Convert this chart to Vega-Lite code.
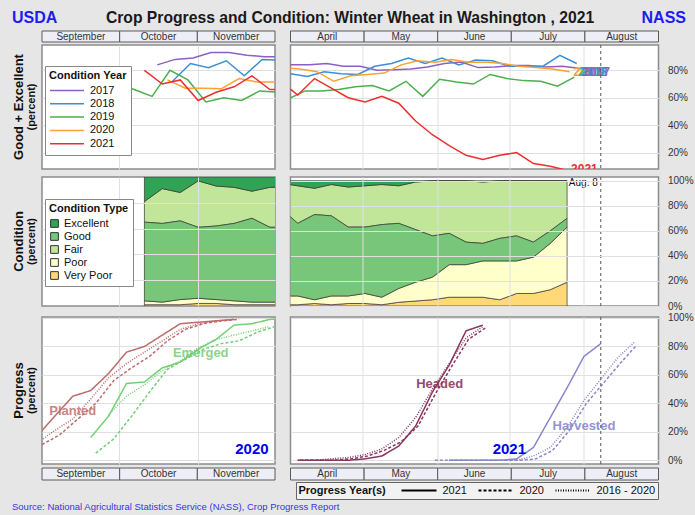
{
"$schema": "https://vega.github.io/schema/vega-lite/v6.json",
"background": "#e6e6e6",
"padding": {"left": 12, "top": 8, "right": 4, "bottom": 4},
"title": {"text": "Source: National Agricultural Statistics Service (NASS), Crop Progress Report", "orient": "bottom", "anchor": "start", "fontSize": 9.5, "fontWeight": "normal", "color": "#3535e0", "offset": 2},
"config": {
  "font": "Liberation Sans",
  "view": {"stroke": null},
  "axis": {"labelFontSize": 10, "labelColor": "#333333", "gridColor": "#e0e0e0", "labelOverlap": false},
  "legend": {"labelFontSize": 11, "titleFontSize": 11, "titleFontWeight": "bold", "labelColor": "#111111", "titleColor": "#111111"}
},
"datasets": {
  "condFall": [
    {"year":"2017","date":"2020-10-16","value":84},{"year":"2017","date":"2020-10-23","value":88},{"year":"2017","date":"2020-10-30","value":89},{"year":"2017","date":"2020-11-06","value":93},{"year":"2017","date":"2020-11-13","value":93},{"year":"2017","date":"2020-11-20","value":91},{"year":"2017","date":"2020-11-27","value":90},{"year":"2017","date":"2020-12-04","value":90},
    {"year":"2018","date":"2020-10-22","value":72},{"year":"2018","date":"2020-10-29","value":85},{"year":"2018","date":"2020-11-05","value":82},{"year":"2018","date":"2020-11-12","value":87},{"year":"2018","date":"2020-11-19","value":76},{"year":"2018","date":"2020-11-26","value":88},{"year":"2018","date":"2020-12-03","value":87.5},
    {"year":"2019","date":"2020-09-30","value":70},{"year":"2019","date":"2020-10-07","value":66},{"year":"2019","date":"2020-10-14","value":61},{"year":"2019","date":"2020-10-21","value":80},{"year":"2019","date":"2020-10-28","value":73},{"year":"2019","date":"2020-11-04","value":57},{"year":"2019","date":"2020-11-11","value":60},{"year":"2019","date":"2020-11-18","value":58},{"year":"2019","date":"2020-11-25","value":65},{"year":"2019","date":"2020-12-02","value":64},
    {"year":"2020","date":"2020-10-20","value":73},{"year":"2020","date":"2020-10-27","value":67},{"year":"2020","date":"2020-11-03","value":67},{"year":"2020","date":"2020-11-10","value":66.5},{"year":"2020","date":"2020-11-17","value":74},{"year":"2020","date":"2020-11-24","value":71.5},{"year":"2020","date":"2020-12-01","value":71.5},
    {"year":"2021","date":"2020-10-11","value":80},{"year":"2021","date":"2020-10-18","value":70},{"year":"2021","date":"2020-10-25","value":73},{"year":"2021","date":"2020-11-01","value":58},{"year":"2021","date":"2020-11-08","value":64},{"year":"2021","date":"2020-11-15","value":68},{"year":"2021","date":"2020-11-22","value":76},{"year":"2021","date":"2020-11-29","value":66},{"year":"2021","date":"2020-12-06","value":66}
  ],
  "condSpring": [
    {"year":"2017","date":"2021-03-26","value":84},{"year":"2017","date":"2021-04-02","value":84},{"year":"2017","date":"2021-04-09","value":84},{"year":"2017","date":"2021-04-16","value":85},{"year":"2017","date":"2021-04-23","value":83},{"year":"2017","date":"2021-04-30","value":83},{"year":"2017","date":"2021-05-07","value":80},{"year":"2017","date":"2021-05-14","value":80.5},{"year":"2017","date":"2021-05-21","value":81},{"year":"2017","date":"2021-05-28","value":82.5},{"year":"2017","date":"2021-06-04","value":85},{"year":"2017","date":"2021-06-11","value":86},{"year":"2017","date":"2021-06-18","value":82},{"year":"2017","date":"2021-06-25","value":82.5},{"year":"2017","date":"2021-07-02","value":83.5},{"year":"2017","date":"2021-07-09","value":83.5},{"year":"2017","date":"2021-07-16","value":82.5},{"year":"2017","date":"2021-07-23","value":83},{"year":"2017","date":"2021-07-30","value":81.5},
    {"year":"2018","date":"2021-03-25","value":78},{"year":"2018","date":"2021-04-01","value":77.5},{"year":"2018","date":"2021-04-08","value":75.5},{"year":"2018","date":"2021-04-15","value":79},{"year":"2018","date":"2021-04-22","value":77.5},{"year":"2018","date":"2021-04-29","value":77},{"year":"2018","date":"2021-05-06","value":83},{"year":"2018","date":"2021-05-13","value":85},{"year":"2018","date":"2021-05-20","value":89},{"year":"2018","date":"2021-05-27","value":85},{"year":"2018","date":"2021-06-03","value":89},{"year":"2018","date":"2021-06-10","value":84},{"year":"2018","date":"2021-06-17","value":87.5},{"year":"2018","date":"2021-06-24","value":87},{"year":"2018","date":"2021-07-01","value":83},{"year":"2018","date":"2021-07-08","value":83},{"year":"2018","date":"2021-07-15","value":83},{"year":"2018","date":"2021-07-22","value":91},{"year":"2018","date":"2021-07-29","value":85},
    {"year":"2019","date":"2021-03-31","value":59},{"year":"2019","date":"2021-04-07","value":65},{"year":"2019","date":"2021-04-14","value":65},{"year":"2019","date":"2021-04-21","value":66},{"year":"2019","date":"2021-04-28","value":68},{"year":"2019","date":"2021-05-05","value":69},{"year":"2019","date":"2021-05-12","value":65},{"year":"2019","date":"2021-05-19","value":72},{"year":"2019","date":"2021-05-26","value":61},{"year":"2019","date":"2021-06-02","value":73.5},{"year":"2019","date":"2021-06-09","value":71.5},{"year":"2019","date":"2021-06-16","value":70},{"year":"2019","date":"2021-06-23","value":77},{"year":"2019","date":"2021-06-30","value":74},{"year":"2019","date":"2021-07-07","value":72.5},{"year":"2019","date":"2021-07-14","value":72},{"year":"2019","date":"2021-07-21","value":68.5},{"year":"2019","date":"2021-07-28","value":75},
    {"year":"2020","date":"2021-03-29","value":82},{"year":"2020","date":"2021-04-05","value":81},{"year":"2020","date":"2021-04-12","value":79},{"year":"2020","date":"2021-04-19","value":72},{"year":"2020","date":"2021-04-26","value":76},{"year":"2020","date":"2021-05-03","value":77},{"year":"2020","date":"2021-05-10","value":78},{"year":"2020","date":"2021-05-17","value":84},{"year":"2020","date":"2021-05-24","value":87},{"year":"2020","date":"2021-05-31","value":86},{"year":"2020","date":"2021-06-07","value":88},{"year":"2020","date":"2021-06-14","value":86},{"year":"2020","date":"2021-06-21","value":86},{"year":"2020","date":"2021-06-28","value":85},{"year":"2020","date":"2021-07-05","value":83},{"year":"2020","date":"2021-07-12","value":82},{"year":"2020","date":"2021-07-19","value":81},{"year":"2020","date":"2021-07-26","value":79},
    {"year":"2021","date":"2021-03-28","value":72},{"year":"2021","date":"2021-04-04","value":62},{"year":"2021","date":"2021-04-11","value":74},{"year":"2021","date":"2021-04-18","value":67},{"year":"2021","date":"2021-04-25","value":60},{"year":"2021","date":"2021-05-02","value":57},{"year":"2021","date":"2021-05-09","value":61},{"year":"2021","date":"2021-05-16","value":56},{"year":"2021","date":"2021-05-23","value":43},{"year":"2021","date":"2021-05-30","value":33},{"year":"2021","date":"2021-06-06","value":25},{"year":"2021","date":"2021-06-13","value":18},{"year":"2021","date":"2021-06-20","value":15},{"year":"2021","date":"2021-06-27","value":18},{"year":"2021","date":"2021-07-04","value":20},{"year":"2021","date":"2021-07-11","value":12},{"year":"2021","date":"2021-07-18","value":10},{"year":"2021","date":"2021-07-25","value":7}
  ],
  "topLabels": [
    {"year":"2021","date":"2021-07-25","value":8},
    {"year":"2020","date":"2021-07-26","value":79},
    {"year":"2019","date":"2021-07-28","value":79},
    {"year":"2018","date":"2021-07-29","value":79},
    {"year":"2017","date":"2021-07-30","value":79}
  ],
  "typeFall": [
    {"date":"2020-10-11","cond":"Very Poor","pct":1},{"date":"2020-10-11","cond":"Poor","pct":3},{"date":"2020-10-11","cond":"Fair","pct":16},{"date":"2020-10-11","cond":"Good","pct":61},{"date":"2020-10-11","cond":"Excellent","pct":19},
    {"date":"2020-10-18","cond":"Very Poor","pct":1},{"date":"2020-10-18","cond":"Poor","pct":2},{"date":"2020-10-18","cond":"Fair","pct":27},{"date":"2020-10-18","cond":"Good","pct":61},{"date":"2020-10-18","cond":"Excellent","pct":9},
    {"date":"2020-10-25","cond":"Very Poor","pct":1},{"date":"2020-10-25","cond":"Poor","pct":4},{"date":"2020-10-25","cond":"Fair","pct":22},{"date":"2020-10-25","cond":"Good","pct":61},{"date":"2020-10-25","cond":"Excellent","pct":12},
    {"date":"2020-11-01","cond":"Very Poor","pct":2},{"date":"2020-11-01","cond":"Poor","pct":4},{"date":"2020-11-01","cond":"Fair","pct":36},{"date":"2020-11-01","cond":"Good","pct":55},{"date":"2020-11-01","cond":"Excellent","pct":3},
    {"date":"2020-11-08","cond":"Very Poor","pct":2},{"date":"2020-11-08","cond":"Poor","pct":3},{"date":"2020-11-08","cond":"Fair","pct":31},{"date":"2020-11-08","cond":"Good","pct":57},{"date":"2020-11-08","cond":"Excellent","pct":7},
    {"date":"2020-11-15","cond":"Very Poor","pct":1},{"date":"2020-11-15","cond":"Poor","pct":3},{"date":"2020-11-15","cond":"Fair","pct":28},{"date":"2020-11-15","cond":"Good","pct":60},{"date":"2020-11-15","cond":"Excellent","pct":8},
    {"date":"2020-11-22","cond":"Very Poor","pct":1},{"date":"2020-11-22","cond":"Poor","pct":2},{"date":"2020-11-22","cond":"Fair","pct":21},{"date":"2020-11-22","cond":"Good","pct":65},{"date":"2020-11-22","cond":"Excellent","pct":11},
    {"date":"2020-11-29","cond":"Very Poor","pct":1},{"date":"2020-11-29","cond":"Poor","pct":2},{"date":"2020-11-29","cond":"Fair","pct":31},{"date":"2020-11-29","cond":"Good","pct":58},{"date":"2020-11-29","cond":"Excellent","pct":8},
    {"date":"2020-12-06","cond":"Very Poor","pct":1},{"date":"2020-12-06","cond":"Poor","pct":2},{"date":"2020-12-06","cond":"Fair","pct":31},{"date":"2020-12-06","cond":"Good","pct":58},{"date":"2020-12-06","cond":"Excellent","pct":8}
  ],
  "typeSpring": [
    {"date":"2021-03-28","cond":"Very Poor","pct":1},{"date":"2021-03-28","cond":"Poor","pct":7},{"date":"2021-03-28","cond":"Fair","pct":20},{"date":"2021-03-28","cond":"Good","pct":70},{"date":"2021-03-28","cond":"Excellent","pct":2},
    {"date":"2021-04-04","cond":"Very Poor","pct":1},{"date":"2021-04-04","cond":"Poor","pct":7},{"date":"2021-04-04","cond":"Fair","pct":30},{"date":"2021-04-04","cond":"Good","pct":58},{"date":"2021-04-04","cond":"Excellent","pct":4},
    {"date":"2021-04-11","cond":"Very Poor","pct":2},{"date":"2021-04-11","cond":"Poor","pct":3},{"date":"2021-04-11","cond":"Fair","pct":21},{"date":"2021-04-11","cond":"Good","pct":68},{"date":"2021-04-11","cond":"Excellent","pct":6},
    {"date":"2021-04-18","cond":"Very Poor","pct":1},{"date":"2021-04-18","cond":"Poor","pct":7},{"date":"2021-04-18","cond":"Fair","pct":25},{"date":"2021-04-18","cond":"Good","pct":64},{"date":"2021-04-18","cond":"Excellent","pct":3},
    {"date":"2021-04-25","cond":"Very Poor","pct":2},{"date":"2021-04-25","cond":"Poor","pct":6},{"date":"2021-04-25","cond":"Fair","pct":32},{"date":"2021-04-25","cond":"Good","pct":55},{"date":"2021-04-25","cond":"Excellent","pct":5},
    {"date":"2021-05-02","cond":"Very Poor","pct":2},{"date":"2021-05-02","cond":"Poor","pct":8},{"date":"2021-05-02","cond":"Fair","pct":33},{"date":"2021-05-02","cond":"Good","pct":53},{"date":"2021-05-02","cond":"Excellent","pct":4},
    {"date":"2021-05-09","cond":"Very Poor","pct":1},{"date":"2021-05-09","cond":"Poor","pct":6},{"date":"2021-05-09","cond":"Fair","pct":32},{"date":"2021-05-09","cond":"Good","pct":58},{"date":"2021-05-09","cond":"Excellent","pct":3},
    {"date":"2021-05-16","cond":"Very Poor","pct":3},{"date":"2021-05-16","cond":"Poor","pct":11},{"date":"2021-05-16","cond":"Fair","pct":30},{"date":"2021-05-16","cond":"Good","pct":52},{"date":"2021-05-16","cond":"Excellent","pct":4},
    {"date":"2021-05-23","cond":"Very Poor","pct":4},{"date":"2021-05-23","cond":"Poor","pct":15},{"date":"2021-05-23","cond":"Fair","pct":38},{"date":"2021-05-23","cond":"Good","pct":42},{"date":"2021-05-23","cond":"Excellent","pct":1},
    {"date":"2021-05-30","cond":"Very Poor","pct":5},{"date":"2021-05-30","cond":"Poor","pct":18},{"date":"2021-05-30","cond":"Fair","pct":44},{"date":"2021-05-30","cond":"Good","pct":33},{"date":"2021-05-30","cond":"Excellent","pct":0},
    {"date":"2021-06-06","cond":"Very Poor","pct":7},{"date":"2021-06-06","cond":"Poor","pct":26},{"date":"2021-06-06","cond":"Fair","pct":42},{"date":"2021-06-06","cond":"Good","pct":25},{"date":"2021-06-06","cond":"Excellent","pct":0},
    {"date":"2021-06-13","cond":"Very Poor","pct":7},{"date":"2021-06-13","cond":"Poor","pct":26},{"date":"2021-06-13","cond":"Fair","pct":49},{"date":"2021-06-13","cond":"Good","pct":18},{"date":"2021-06-13","cond":"Excellent","pct":0},
    {"date":"2021-06-20","cond":"Very Poor","pct":7},{"date":"2021-06-20","cond":"Poor","pct":29},{"date":"2021-06-20","cond":"Fair","pct":49},{"date":"2021-06-20","cond":"Good","pct":14},{"date":"2021-06-20","cond":"Excellent","pct":1},
    {"date":"2021-06-27","cond":"Very Poor","pct":5},{"date":"2021-06-27","cond":"Poor","pct":31},{"date":"2021-06-27","cond":"Fair","pct":46},{"date":"2021-06-27","cond":"Good","pct":18},{"date":"2021-06-27","cond":"Excellent","pct":0},
    {"date":"2021-07-04","cond":"Very Poor","pct":10},{"date":"2021-07-04","cond":"Poor","pct":26},{"date":"2021-07-04","cond":"Fair","pct":44},{"date":"2021-07-04","cond":"Good","pct":20},{"date":"2021-07-04","cond":"Excellent","pct":0},
    {"date":"2021-07-11","cond":"Very Poor","pct":10},{"date":"2021-07-11","cond":"Poor","pct":29},{"date":"2021-07-11","cond":"Fair","pct":49},{"date":"2021-07-11","cond":"Good","pct":12},{"date":"2021-07-11","cond":"Excellent","pct":0},
    {"date":"2021-07-18","cond":"Very Poor","pct":13},{"date":"2021-07-18","cond":"Poor","pct":37},{"date":"2021-07-18","cond":"Fair","pct":40},{"date":"2021-07-18","cond":"Good","pct":10},{"date":"2021-07-18","cond":"Excellent","pct":0},
    {"date":"2021-07-25","cond":"Very Poor","pct":19},{"date":"2021-07-25","cond":"Poor","pct":44},{"date":"2021-07-25","cond":"Fair","pct":30},{"date":"2021-07-25","cond":"Good","pct":7},{"date":"2021-07-25","cond":"Excellent","pct":0}
  ],
  "progFall": [
    {"stage":"Planted","pyear":"2021","date":"2020-08-30","value":17},{"stage":"Planted","pyear":"2021","date":"2020-09-06","value":31},{"stage":"Planted","pyear":"2021","date":"2020-09-13","value":45},{"stage":"Planted","pyear":"2021","date":"2020-09-20","value":49},{"stage":"Planted","pyear":"2021","date":"2020-09-27","value":61},{"stage":"Planted","pyear":"2021","date":"2020-10-04","value":76},{"stage":"Planted","pyear":"2021","date":"2020-10-11","value":80},{"stage":"Planted","pyear":"2021","date":"2020-10-18","value":88},{"stage":"Planted","pyear":"2021","date":"2020-10-25","value":96},{"stage":"Planted","pyear":"2021","date":"2020-11-01","value":97},{"stage":"Planted","pyear":"2021","date":"2020-11-08","value":98},{"stage":"Planted","pyear":"2021","date":"2020-11-15","value":99},
    {"stage":"Planted","pyear":"2020","date":"2020-09-01","value":11},{"stage":"Planted","pyear":"2020","date":"2020-09-08","value":18},{"stage":"Planted","pyear":"2020","date":"2020-09-15","value":29},{"stage":"Planted","pyear":"2020","date":"2020-09-22","value":40},{"stage":"Planted","pyear":"2020","date":"2020-09-29","value":56},{"stage":"Planted","pyear":"2020","date":"2020-10-06","value":65},{"stage":"Planted","pyear":"2020","date":"2020-10-13","value":73},{"stage":"Planted","pyear":"2020","date":"2020-10-20","value":84},{"stage":"Planted","pyear":"2020","date":"2020-10-27","value":92},{"stage":"Planted","pyear":"2020","date":"2020-11-03","value":96},{"stage":"Planted","pyear":"2020","date":"2020-11-10","value":98},{"stage":"Planted","pyear":"2020","date":"2020-11-17","value":99},
    {"stage":"Planted","pyear":"2016 - 2020","date":"2020-08-30","value":12},{"stage":"Planted","pyear":"2016 - 2020","date":"2020-09-06","value":21},{"stage":"Planted","pyear":"2016 - 2020","date":"2020-09-13","value":29},{"stage":"Planted","pyear":"2016 - 2020","date":"2020-09-20","value":43},{"stage":"Planted","pyear":"2016 - 2020","date":"2020-09-27","value":58},{"stage":"Planted","pyear":"2016 - 2020","date":"2020-10-04","value":68},{"stage":"Planted","pyear":"2016 - 2020","date":"2020-10-11","value":76},{"stage":"Planted","pyear":"2016 - 2020","date":"2020-10-18","value":84},{"stage":"Planted","pyear":"2016 - 2020","date":"2020-10-25","value":92},{"stage":"Planted","pyear":"2016 - 2020","date":"2020-11-01","value":96},{"stage":"Planted","pyear":"2016 - 2020","date":"2020-11-08","value":98},{"stage":"Planted","pyear":"2016 - 2020","date":"2020-11-15","value":99},
    {"stage":"Emerged","pyear":"2021","date":"2020-09-20","value":16},{"stage":"Emerged","pyear":"2021","date":"2020-09-27","value":31},{"stage":"Emerged","pyear":"2021","date":"2020-10-04","value":54},{"stage":"Emerged","pyear":"2021","date":"2020-10-11","value":55},{"stage":"Emerged","pyear":"2021","date":"2020-10-18","value":65},{"stage":"Emerged","pyear":"2021","date":"2020-10-25","value":69},{"stage":"Emerged","pyear":"2021","date":"2020-11-01","value":78},{"stage":"Emerged","pyear":"2021","date":"2020-11-08","value":85},{"stage":"Emerged","pyear":"2021","date":"2020-11-15","value":95},{"stage":"Emerged","pyear":"2021","date":"2020-11-22","value":96},{"stage":"Emerged","pyear":"2021","date":"2020-11-29","value":99},{"stage":"Emerged","pyear":"2021","date":"2020-12-06","value":100},
    {"stage":"Emerged","pyear":"2020","date":"2020-09-22","value":5},{"stage":"Emerged","pyear":"2020","date":"2020-09-29","value":15},{"stage":"Emerged","pyear":"2020","date":"2020-10-06","value":31},{"stage":"Emerged","pyear":"2020","date":"2020-10-13","value":48},{"stage":"Emerged","pyear":"2020","date":"2020-10-20","value":64},{"stage":"Emerged","pyear":"2020","date":"2020-10-27","value":71},{"stage":"Emerged","pyear":"2020","date":"2020-11-03","value":78},{"stage":"Emerged","pyear":"2020","date":"2020-11-10","value":82},{"stage":"Emerged","pyear":"2020","date":"2020-11-17","value":84},{"stage":"Emerged","pyear":"2020","date":"2020-11-24","value":90},{"stage":"Emerged","pyear":"2020","date":"2020-12-01","value":94},
    {"stage":"Emerged","pyear":"2016 - 2020","date":"2020-09-27","value":32},{"stage":"Emerged","pyear":"2016 - 2020","date":"2020-10-04","value":45},{"stage":"Emerged","pyear":"2016 - 2020","date":"2020-10-11","value":53},{"stage":"Emerged","pyear":"2016 - 2020","date":"2020-10-18","value":63},{"stage":"Emerged","pyear":"2016 - 2020","date":"2020-10-25","value":70},{"stage":"Emerged","pyear":"2016 - 2020","date":"2020-11-01","value":79},{"stage":"Emerged","pyear":"2016 - 2020","date":"2020-11-08","value":85},{"stage":"Emerged","pyear":"2016 - 2020","date":"2020-11-15","value":88},{"stage":"Emerged","pyear":"2016 - 2020","date":"2020-11-22","value":91},{"stage":"Emerged","pyear":"2016 - 2020","date":"2020-11-29","value":94}
  ],
  "progSpring": [
    {"stage":"Headed","pyear":"2021","date":"2021-04-04","value":0},{"stage":"Headed","pyear":"2021","date":"2021-04-11","value":0},{"stage":"Headed","pyear":"2021","date":"2021-04-18","value":0},{"stage":"Headed","pyear":"2021","date":"2021-04-25","value":0},{"stage":"Headed","pyear":"2021","date":"2021-05-02","value":1},{"stage":"Headed","pyear":"2021","date":"2021-05-09","value":3},{"stage":"Headed","pyear":"2021","date":"2021-05-16","value":10},{"stage":"Headed","pyear":"2021","date":"2021-05-23","value":24},{"stage":"Headed","pyear":"2021","date":"2021-05-30","value":48},{"stage":"Headed","pyear":"2021","date":"2021-06-06","value":67},{"stage":"Headed","pyear":"2021","date":"2021-06-13","value":91},{"stage":"Headed","pyear":"2021","date":"2021-06-20","value":95},
    {"stage":"Headed","pyear":"2020","date":"2021-04-05","value":0},{"stage":"Headed","pyear":"2020","date":"2021-04-12","value":0},{"stage":"Headed","pyear":"2020","date":"2021-04-19","value":0},{"stage":"Headed","pyear":"2020","date":"2021-04-26","value":1},{"stage":"Headed","pyear":"2020","date":"2021-05-03","value":3},{"stage":"Headed","pyear":"2020","date":"2021-05-10","value":7},{"stage":"Headed","pyear":"2020","date":"2021-05-17","value":13},{"stage":"Headed","pyear":"2020","date":"2021-05-24","value":24},{"stage":"Headed","pyear":"2020","date":"2021-05-31","value":46},{"stage":"Headed","pyear":"2020","date":"2021-06-07","value":66},{"stage":"Headed","pyear":"2020","date":"2021-06-14","value":85},{"stage":"Headed","pyear":"2020","date":"2021-06-21","value":93},
    {"stage":"Headed","pyear":"2016 - 2020","date":"2021-04-04","value":0},{"stage":"Headed","pyear":"2016 - 2020","date":"2021-04-11","value":0},{"stage":"Headed","pyear":"2016 - 2020","date":"2021-04-18","value":1},{"stage":"Headed","pyear":"2016 - 2020","date":"2021-04-25","value":2},{"stage":"Headed","pyear":"2016 - 2020","date":"2021-05-02","value":4},{"stage":"Headed","pyear":"2016 - 2020","date":"2021-05-09","value":8},{"stage":"Headed","pyear":"2016 - 2020","date":"2021-05-16","value":16},{"stage":"Headed","pyear":"2016 - 2020","date":"2021-05-23","value":30},{"stage":"Headed","pyear":"2016 - 2020","date":"2021-05-30","value":50},{"stage":"Headed","pyear":"2016 - 2020","date":"2021-06-06","value":68},{"stage":"Headed","pyear":"2016 - 2020","date":"2021-06-13","value":86},{"stage":"Headed","pyear":"2016 - 2020","date":"2021-06-20","value":94},
    {"stage":"Harvested","pyear":"2021","date":"2021-06-06","value":0},{"stage":"Harvested","pyear":"2021","date":"2021-06-13","value":0},{"stage":"Harvested","pyear":"2021","date":"2021-06-20","value":0},{"stage":"Harvested","pyear":"2021","date":"2021-06-27","value":0},{"stage":"Harvested","pyear":"2021","date":"2021-07-04","value":1},{"stage":"Harvested","pyear":"2021","date":"2021-07-11","value":9},{"stage":"Harvested","pyear":"2021","date":"2021-07-18","value":30},{"stage":"Harvested","pyear":"2021","date":"2021-07-25","value":51},{"stage":"Harvested","pyear":"2021","date":"2021-08-01","value":73},{"stage":"Harvested","pyear":"2021","date":"2021-08-08","value":82},
    {"stage":"Harvested","pyear":"2020","date":"2021-05-31","value":0},{"stage":"Harvested","pyear":"2020","date":"2021-06-07","value":0},{"stage":"Harvested","pyear":"2020","date":"2021-06-14","value":0},{"stage":"Harvested","pyear":"2020","date":"2021-06-21","value":0},{"stage":"Harvested","pyear":"2020","date":"2021-06-28","value":0},{"stage":"Harvested","pyear":"2020","date":"2021-07-05","value":0},{"stage":"Harvested","pyear":"2020","date":"2021-07-12","value":1},{"stage":"Harvested","pyear":"2020","date":"2021-07-19","value":7},{"stage":"Harvested","pyear":"2020","date":"2021-07-26","value":21},{"stage":"Harvested","pyear":"2020","date":"2021-08-02","value":40},{"stage":"Harvested","pyear":"2020","date":"2021-08-09","value":54},{"stage":"Harvested","pyear":"2020","date":"2021-08-16","value":68},{"stage":"Harvested","pyear":"2020","date":"2021-08-23","value":81},
    {"stage":"Harvested","pyear":"2016 - 2020","date":"2021-06-06","value":0},{"stage":"Harvested","pyear":"2016 - 2020","date":"2021-06-13","value":0},{"stage":"Harvested","pyear":"2016 - 2020","date":"2021-06-20","value":0},{"stage":"Harvested","pyear":"2016 - 2020","date":"2021-06-27","value":0},{"stage":"Harvested","pyear":"2016 - 2020","date":"2021-07-04","value":0},{"stage":"Harvested","pyear":"2016 - 2020","date":"2021-07-11","value":3},{"stage":"Harvested","pyear":"2016 - 2020","date":"2021-07-18","value":9},{"stage":"Harvested","pyear":"2016 - 2020","date":"2021-07-25","value":23},{"stage":"Harvested","pyear":"2016 - 2020","date":"2021-08-01","value":42},{"stage":"Harvested","pyear":"2016 - 2020","date":"2021-08-08","value":57},{"stage":"Harvested","pyear":"2016 - 2020","date":"2021-08-15","value":72},{"stage":"Harvested","pyear":"2016 - 2020","date":"2021-08-22","value":83}
  ]
},
"spacing": 4,
"resolve": {"scale": {"color": "independent", "fill": "independent", "stroke": "independent"}},
"vconcat": [
 {
  "spacing": 2,
  "resolve": {"scale": {"color": "independent", "fill": "independent", "stroke": "independent"}},
  "vconcat": [
   {
    "width": 646, "height": 20,
    "data": {"values": [{"t": "USDA"}, {"t": "Crop Progress and Condition: Winter Wheat in Washington , 2021"}, {"t": "NASS"}]},
    "encoding": {"x": {"field": "t", "type": "nominal", "scale": {"type": "point", "padding": 0, "domain": ["USDA", "Crop Progress and Condition: Winter Wheat in Washington , 2021", "NASS"]}, "axis": null}, "text": {"field": "t"}},
    "layer": [
     {"transform": [{"filter": "datum.t == 'USDA'"}], "mark": {"type": "text", "fontSize": 16, "fontWeight": "bold", "color": "#1c1cf2", "align": "left"}},
     {"transform": [{"filter": "datum.t != 'USDA' && datum.t != 'NASS'"}], "mark": {"type": "text", "fontSize": 15.7, "fontWeight": "bold", "color": "#1a1a1a", "dx": 15}},
     {"transform": [{"filter": "datum.t == 'NASS'"}], "mark": {"type": "text", "fontSize": 16, "fontWeight": "bold", "color": "#1c1cf2", "align": "right", "dx": 28}}
    ]
   },
   {
    "spacing": 0,
    "resolve": {"scale": {"color": "independent", "fill": "independent", "stroke": "independent"}},
    "vconcat": [
     {
      "spacing": 2,
      "resolve": {"scale": {"color": "independent", "fill": "independent", "stroke": "independent"}},
      "hconcat": [
       {"width": 27, "height": 11, "data": {"values": [{"t": ""}]}, "mark": {"type": "text"}, "encoding": {"text": {"field": "t"}}},
       {
        "spacing": 13.5,
        "resolve": {"scale": {"color": "independent", "fill": "independent", "stroke": "independent"}},
        "hconcat": [
         {
          "width": 233, "height": 11,
          "data": {"values": [{"m": "September"}, {"m": "October"}, {"m": "November"}]},
          "layer": [
           {"mark": {"type": "rect", "fill": "#eeeef6", "stroke": "#5a5a5a", "strokeWidth": 1}, "encoding": {"x": {"field": "m", "type": "nominal", "sort": null, "scale": {"type": "band", "paddingInner": 0, "paddingOuter": 0}, "axis": null}}},
           {"mark": {"type": "text", "fontSize": 10, "color": "#333333"}, "encoding": {"x": {"field": "m", "type": "nominal", "sort": null, "scale": {"type": "band", "paddingInner": 0, "paddingOuter": 0}, "axis": null}, "text": {"field": "m"}}}
          ]
         },
         {
          "width": 368, "height": 11,
          "data": {"values": [{"m": "April"}, {"m": "May"}, {"m": "June"}, {"m": "July"}, {"m": "August"}]},
          "layer": [
           {"mark": {"type": "rect", "fill": "#eeeef6", "stroke": "#5a5a5a", "strokeWidth": 1}, "encoding": {"x": {"field": "m", "type": "nominal", "sort": null, "scale": {"type": "band", "paddingInner": 0, "paddingOuter": 0}, "axis": null}}},
           {"mark": {"type": "text", "fontSize": 10, "color": "#333333"}, "encoding": {"x": {"field": "m", "type": "nominal", "sort": null, "scale": {"type": "band", "paddingInner": 0, "paddingOuter": 0}, "axis": null}, "text": {"field": "m"}}}
          ]
         }
        ]
       }
      ]
     },
     {
      "spacing": 2,
      "resolve": {"scale": {"color": "independent", "fill": "independent", "stroke": "independent"}},
      "hconcat": [
       {
        "width": 27, "height": 124,
        "data": {"values": [{"t": "Good + Excellent"}, {"t": "(percent)"}]},
        "encoding": {"x": {"field": "t", "type": "nominal", "scale": {"type": "point", "padding": 0.5, "domain": ["Good + Excellent", "(percent)"]}, "axis": null}, "text": {"field": "t"}},
        "layer": [
         {"transform": [{"filter": "datum.t != '(percent)'"}], "mark": {"type": "text", "clip": true, "angle": 270, "fontSize": 13, "fontWeight": "bold", "color": "#111111"}},
         {"transform": [{"filter": "datum.t == '(percent)'"}], "mark": {"type": "text", "clip": true, "angle": 270, "fontSize": 11, "fontWeight": "bold", "color": "#111111"}}
        ]
       },
       {
        "spacing": 13.5,
        "resolve": {"scale": {"color": "independent", "fill": "independent", "stroke": "independent"}},
        "hconcat": [
         {
          "width": 233, "height": 124,
          "view": {"fill": "white", "stroke": "#8c8c8c", "strokeWidth": 1.5},
          "data": {"name": "condFall"},
          "mark": {"type": "line", "clip": true, "strokeWidth": 1.5},
          "encoding": {
           "x": {"field": "date", "type": "temporal", "scale": {"domain": [{"year": 2020, "month": 9, "date": 1, "utc": true}, {"year": 2020, "month": 12, "date": 1, "utc": true}]}, "axis": {"orient": "top", "labels": false, "ticks": false, "domain": false, "title": null, "grid": true, "values": [{"year": 2020, "month": 10, "date": 1, "utc": true}, {"year": 2020, "month": 11, "date": 1, "utc": true}]}},
           "y": {"field": "value", "type": "quantitative", "scale": {"domain": [8, 98.5], "nice": false, "zero": false}, "axis": {"orient": "left", "values": [20, 40, 60, 80], "tickCount": 10, "labels": false, "ticks": false, "domain": false, "grid": true, "title": null}},
           "color": {"field": "year", "type": "nominal", "scale": {"domain": ["2017", "2018", "2019", "2020", "2021"], "range": ["#8e5fc2", "#3b8fd6", "#4caf4c", "#ffa033", "#ee2e2e"]},
             "legend": {"orient": "none", "legendX": 3, "legendY": 21, "title": "Condition Year", "fillColor": "white", "strokeColor": "#888888", "padding": 4, "titlePadding": 3, "symbolType": "stroke", "symbolSize": 1150, "symbolStrokeWidth": 1.5, "clipHeight": 13, "rowPadding": 0.3, "labelOffset": 5}}
          }
         },
         {
          "width": 368, "height": 124,
          "view": {"fill": "white", "stroke": "#8c8c8c", "strokeWidth": 1.5},
          "layer": [
           {
            "data": {"name": "condSpring"},
            "mark": {"type": "line", "clip": true, "strokeWidth": 1.5},
            "encoding": {
             "x": {"field": "date", "type": "temporal", "scale": {"domain": [{"year": 2021, "month": 4, "date": 1, "utc": true}, {"year": 2021, "month": 9, "date": 1, "utc": true}]}, "axis": {"orient": "top", "labels": false, "ticks": false, "domain": false, "title": null, "grid": true, "values": [{"year": 2021, "month": 5, "date": 1, "utc": true}, {"year": 2021, "month": 6, "date": 1, "utc": true}, {"year": 2021, "month": 7, "date": 1, "utc": true}, {"year": 2021, "month": 8, "date": 1, "utc": true}]}},
             "y": {"field": "value", "type": "quantitative", "scale": {"domain": [8, 98.5], "nice": false, "zero": false}, "axis": {"orient": "right", "values": [20, 40, 60, 80], "tickCount": 10, "labelExpr": "datum.value + '%'", "labelOverlap": false, "ticks": false, "domain": false, "grid": true, "title": null, "labelPadding": 9}},
             "color": {"field": "year", "type": "nominal", "scale": {"domain": ["2017", "2018", "2019", "2020", "2021"], "range": ["#8e5fc2", "#3b8fd6", "#4caf4c", "#ffa033", "#ee2e2e"]}, "legend": null}
            }
           },
           {
            "data": {"name": "topLabels"},
            "mark": {"type": "text", "clip": true, "fontSize": 12, "fontWeight": "bold", "align": "left", "baseline": "middle", "dx": 4},
            "encoding": {
             "x": {"field": "date", "type": "temporal"},
             "y": {"field": "value", "type": "quantitative"},
             "text": {"field": "year"},
             "color": {"field": "year", "type": "nominal", "legend": null}
            }
           },
           {
            "data": {"values": [{"date": "2021-08-08"}]},
            "mark": {"type": "rule", "strokeDash": [3, 3], "color": "#555555", "strokeWidth": 1},
            "encoding": {"x": {"field": "date", "type": "temporal"}}
           }
          ]
         }
        ]
       }
      ]
     }
    ]
   }
  ]
 },
 {
  "spacing": 0,
  "resolve": {"scale": {"color": "independent", "fill": "independent", "stroke": "independent"}},
  "vconcat": [
   {
    "spacing": 2,
    "resolve": {"scale": {"color": "independent", "fill": "independent", "stroke": "independent"}},
    "hconcat": [
     {
      "width": 27, "height": 129,
      "data": {"values": [{"t": "Condition"}, {"t": "(percent)"}]},
      "encoding": {"x": {"field": "t", "type": "nominal", "scale": {"type": "point", "padding": 0.5, "domain": ["Condition", "(percent)"]}, "axis": null}, "text": {"field": "t"}},
      "layer": [
       {"transform": [{"filter": "datum.t != '(percent)'"}], "mark": {"type": "text", "clip": true, "angle": 270, "fontSize": 13, "fontWeight": "bold", "color": "#111111"}},
       {"transform": [{"filter": "datum.t == '(percent)'"}], "mark": {"type": "text", "clip": true, "angle": 270, "fontSize": 11, "fontWeight": "bold", "color": "#111111"}}
      ]
     },
     {
      "spacing": 13.5,
      "resolve": {"scale": {"color": "independent", "fill": "independent", "stroke": "independent"}},
      "hconcat": [
       {
        "width": 233, "height": 129,
        "view": {"fill": "white", "stroke": "#8c8c8c", "strokeWidth": 1.5},
        "data": {"name": "typeFall"},
        "mark": {"type": "area", "clip": true, "stroke": "#333333", "strokeWidth": 0.7},
        "encoding": {
         "x": {"field": "date", "type": "temporal", "scale": {"domain": [{"year": 2020, "month": 9, "date": 1, "utc": true}, {"year": 2020, "month": 12, "date": 1, "utc": true}]}, "axis": {"orient": "top", "labels": false, "ticks": false, "domain": false, "title": null, "grid": true, "zindex": 1, "values": [{"year": 2020, "month": 10, "date": 1, "utc": true}, {"year": 2020, "month": 11, "date": 1, "utc": true}]}},
         "y": {"field": "pct", "type": "quantitative", "stack": "zero", "scale": {"domain": [0, 100], "nice": false}, "axis": {"orient": "left", "values": [20, 40, 60, 80], "tickCount": 10, "labels": false, "ticks": false, "domain": false, "grid": true, "zindex": 1, "title": null}},
         "fill": {"field": "cond", "type": "nominal", "sort": ["Excellent", "Good", "Fair", "Poor", "Very Poor"], "scale": {"domain": ["Excellent", "Good", "Fair", "Poor", "Very Poor"], "range": ["#31a354", "#78c679", "#c2e699", "#ffffcc", "#fed976"]},
           "legend": {"orient": "none", "legendX": 3, "legendY": 22, "zindex": 2, "title": "Condition Type", "fillColor": "white", "strokeColor": "#888888", "padding": 4, "titlePadding": 3, "symbolType": "square", "symbolSize": 60, "symbolStrokeColor": "#333333", "symbolStrokeWidth": 1, "clipHeight": 13, "rowPadding": 0}}
        }
       },
       {
        "width": 368, "height": 129,
        "view": {"fill": "white", "stroke": "#8c8c8c", "strokeWidth": 1.5},
        "layer": [
         {
          "data": {"name": "typeSpring"},
          "mark": {"type": "area", "clip": true, "stroke": "#333333", "strokeWidth": 0.7},
          "encoding": {
           "x": {"field": "date", "type": "temporal", "scale": {"domain": [{"year": 2021, "month": 4, "date": 1, "utc": true}, {"year": 2021, "month": 9, "date": 1, "utc": true}]}, "axis": {"orient": "top", "labels": false, "ticks": false, "domain": false, "title": null, "grid": true, "zindex": 1, "values": [{"year": 2021, "month": 5, "date": 1, "utc": true}, {"year": 2021, "month": 6, "date": 1, "utc": true}, {"year": 2021, "month": 7, "date": 1, "utc": true}, {"year": 2021, "month": 8, "date": 1, "utc": true}]}},
           "y": {"field": "pct", "type": "quantitative", "stack": "zero", "scale": {"domain": [0, 103], "nice": false}, "axis": {"orient": "right", "values": [0, 20, 40, 60, 80, 100], "tickCount": 10, "labelExpr": "datum.value + '%'", "labelOverlap": false, "ticks": false, "domain": false, "grid": true, "zindex": 1, "title": null, "labelPadding": 9}},
           "fill": {"field": "cond", "type": "nominal", "sort": ["Excellent", "Good", "Fair", "Poor", "Very Poor"], "scale": {"domain": ["Excellent", "Good", "Fair", "Poor", "Very Poor"], "range": ["#31a354", "#78c679", "#c2e699", "#ffffcc", "#fed976"]}, "legend": null}
          }
         },
         {
          "data": {"values": [{"date": "2021-08-08", "pct": 98, "t": "Aug.  8"}]},
          "mark": {"type": "text", "fontSize": 10, "align": "right", "dx": -3, "color": "#111111"},
          "encoding": {"x": {"field": "date", "type": "temporal"}, "y": {"field": "pct", "type": "quantitative", "stack": null}, "text": {"field": "t"}}
         },
         {
          "data": {"values": [{"date": "2021-08-08"}]},
          "mark": {"type": "rule", "strokeDash": [3, 3], "color": "#555555", "strokeWidth": 1},
          "encoding": {"x": {"field": "date", "type": "temporal"}}
         }
        ]
       }
      ]
     }
    ]
   },
   {
    "spacing": 0,
    "resolve": {"scale": {"color": "independent", "fill": "independent", "stroke": "independent"}},
    "vconcat": [
     {
      "spacing": 2,
      "resolve": {"scale": {"color": "independent", "fill": "independent", "stroke": "independent"}},
      "hconcat": [
       {
        "width": 27, "height": 147,
        "data": {"values": [{"t": "Progress"}, {"t": "(percent)"}]},
        "encoding": {"x": {"field": "t", "type": "nominal", "scale": {"type": "point", "padding": 0.5, "domain": ["Progress", "(percent)"]}, "axis": null}, "text": {"field": "t"}},
        "layer": [
         {"transform": [{"filter": "datum.t != '(percent)'"}], "mark": {"type": "text", "clip": true, "angle": 270, "fontSize": 13, "fontWeight": "bold", "color": "#111111"}},
         {"transform": [{"filter": "datum.t == '(percent)'"}], "mark": {"type": "text", "clip": true, "angle": 270, "fontSize": 11, "fontWeight": "bold", "color": "#111111"}}
        ]
       },
       {
        "spacing": 13.5,
        "resolve": {"scale": {"color": "independent", "fill": "independent", "stroke": "independent"}},
        "hconcat": [
         {
          "width": 233, "height": 147,
          "view": {"fill": "white", "stroke": "#8c8c8c", "strokeWidth": 1.5},
          "layer": [
           {
            "data": {"name": "progFall"},
            "mark": {"type": "line", "clip": true, "strokeWidth": 1.5},
            "encoding": {
             "x": {"field": "date", "type": "temporal", "scale": {"domain": [{"year": 2020, "month": 9, "date": 1, "utc": true}, {"year": 2020, "month": 12, "date": 1, "utc": true}]}, "axis": {"orient": "top", "labels": false, "ticks": false, "domain": false, "title": null, "grid": true, "values": [{"year": 2020, "month": 10, "date": 1, "utc": true}, {"year": 2020, "month": 11, "date": 1, "utc": true}]}},
             "y": {"field": "value", "type": "quantitative", "scale": {"domain": [-2.6, 100.7], "nice": false, "zero": false}, "axis": {"orient": "left", "values": [0, 20, 40, 60, 80, 100], "tickCount": 10, "labels": false, "ticks": false, "domain": false, "grid": true, "title": null}},
             "stroke": {"field": "stage", "type": "nominal", "scale": {"domain": ["Planted", "Emerged"], "range": ["#bd6b6b", "#74cf74"]}, "legend": null},
             "strokeDash": {"field": "pyear", "type": "nominal", "scale": {"domain": ["2021", "2020", "2016 - 2020"], "range": [[1, 0], [3, 2], [1, 1.5]]},
               "legend": {"orient": "none", "legendX": 284, "legendY": 474, "direction": "horizontal", "titleOrient": "left", "title": "Progress Year(s)", "symbolType": "stroke", "symbolSize": 1225, "symbolStrokeWidth": 2, "symbolStrokeColor": "#000000", "fillColor": "#f2f2f2", "strokeColor": "#666666", "padding": 2.5, "columnPadding": 10, "clipHeight": 12, "labelFontSize": 11, "titleFontSize": 11, "titlePadding": 14, "labelOffset": 5}}
            }
           },
           {
            "data": {"values": [{"label": "Planted", "date": "2020-09-13", "value": 34.5}, {"label": "Emerged", "date": "2020-11-02", "value": 75.4}]},
            "mark": {"type": "text", "fontSize": 13, "fontWeight": "bold", "opacity": 0.85},
            "encoding": {"x": {"field": "date", "type": "temporal"}, "y": {"field": "value", "type": "quantitative"}, "text": {"field": "label"}, "color": {"field": "label", "type": "nominal", "scale": {"domain": ["Planted", "Emerged"], "range": ["#c07070", "#74cf74"]}, "legend": null}}
           },
           {
            "data": {"values": [{"label": "2020", "date": "2020-11-22", "value": 8}]},
            "mark": {"type": "text", "fontSize": 15, "fontWeight": "bold", "color": "#0000ee"},
            "encoding": {"x": {"field": "date", "type": "temporal"}, "y": {"field": "value", "type": "quantitative"}, "text": {"field": "label"}}
           }
          ]
         },
         {
          "width": 368, "height": 147,
          "view": {"fill": "white", "stroke": "#8c8c8c", "strokeWidth": 1.5},
          "layer": [
           {
            "data": {"name": "progSpring"},
            "mark": {"type": "line", "clip": true, "strokeWidth": 1.5},
            "encoding": {
             "x": {"field": "date", "type": "temporal", "scale": {"domain": [{"year": 2021, "month": 4, "date": 1, "utc": true}, {"year": 2021, "month": 9, "date": 1, "utc": true}]}, "axis": {"orient": "top", "labels": false, "ticks": false, "domain": false, "title": null, "grid": true, "values": [{"year": 2021, "month": 5, "date": 1, "utc": true}, {"year": 2021, "month": 6, "date": 1, "utc": true}, {"year": 2021, "month": 7, "date": 1, "utc": true}, {"year": 2021, "month": 8, "date": 1, "utc": true}]}},
             "y": {"field": "value", "type": "quantitative", "scale": {"domain": [-2.6, 100.7], "nice": false, "zero": false}, "axis": {"orient": "right", "values": [0, 20, 40, 60, 80, 100], "tickCount": 10, "labelExpr": "datum.value + '%'", "labelOverlap": false, "ticks": false, "domain": false, "grid": true, "title": null, "labelPadding": 9}},
             "stroke": {"field": "stage", "type": "nominal", "scale": {"domain": ["Headed", "Harvested"], "range": ["#8a3660", "#8888cc"]}, "legend": null},
             "strokeDash": {"field": "pyear", "type": "nominal", "scale": {"domain": ["2021", "2020", "2016 - 2020"], "range": [[1, 0], [3, 2], [1, 1.5]]},
               "legend": {"orient": "none", "legendX": 284, "legendY": 474, "direction": "horizontal", "titleOrient": "left", "title": "Progress Year(s)", "symbolType": "stroke", "symbolSize": 1225, "symbolStrokeWidth": 2, "symbolStrokeColor": "#000000", "fillColor": "#f2f2f2", "strokeColor": "#666666", "padding": 2.5, "columnPadding": 10, "clipHeight": 12, "labelFontSize": 11, "titleFontSize": 11, "titlePadding": 14, "labelOffset": 5}}
            }
           },
           {
            "data": {"values": [{"label": "Headed", "date": "2021-06-02", "value": 53.7}, {"label": "Harvested", "date": "2021-08-01", "value": 24}]},
            "mark": {"type": "text", "fontSize": 13, "fontWeight": "bold", "opacity": 0.9},
            "encoding": {"x": {"field": "date", "type": "temporal"}, "y": {"field": "value", "type": "quantitative"}, "text": {"field": "label"}, "color": {"field": "label", "type": "nominal", "scale": {"domain": ["Headed", "Harvested"], "range": ["#8a3660", "#8888cc"]}, "legend": null}}
           },
           {
            "data": {"values": [{"label": "2021", "date": "2021-07-01", "value": 8}]},
            "mark": {"type": "text", "fontSize": 15, "fontWeight": "bold", "color": "#0000ee"},
            "encoding": {"x": {"field": "date", "type": "temporal"}, "y": {"field": "value", "type": "quantitative"}, "text": {"field": "label"}}
           },
           {
            "data": {"values": [{"date": "2021-08-08"}]},
            "mark": {"type": "rule", "strokeDash": [3, 3], "color": "#555555", "strokeWidth": 1},
            "encoding": {"x": {"field": "date", "type": "temporal"}}
           }
          ]
         }
        ]
       }
      ]
     },
     {
      "spacing": 2,
      "resolve": {"scale": {"color": "independent", "fill": "independent", "stroke": "independent"}},
      "hconcat": [
       {"width": 27, "height": 12, "data": {"values": [{"t": ""}]}, "mark": {"type": "text"}, "encoding": {"text": {"field": "t"}}},
       {
        "spacing": 13.5,
        "resolve": {"scale": {"color": "independent", "fill": "independent", "stroke": "independent"}},
        "hconcat": [
         {
          "width": 233, "height": 12,
          "data": {"values": [{"m": "September"}, {"m": "October"}, {"m": "November"}]},
          "layer": [
           {"mark": {"type": "rect", "fill": "#eeeef6", "stroke": "#5a5a5a", "strokeWidth": 1}, "encoding": {"x": {"field": "m", "type": "nominal", "sort": null, "scale": {"type": "band", "paddingInner": 0, "paddingOuter": 0}, "axis": null}}},
           {"mark": {"type": "text", "fontSize": 10, "color": "#333333"}, "encoding": {"x": {"field": "m", "type": "nominal", "sort": null, "scale": {"type": "band", "paddingInner": 0, "paddingOuter": 0}, "axis": null}, "text": {"field": "m"}}}
          ]
         },
         {
          "width": 368, "height": 12,
          "data": {"values": [{"m": "April"}, {"m": "May"}, {"m": "June"}, {"m": "July"}, {"m": "August"}]},
          "layer": [
           {"mark": {"type": "rect", "fill": "#eeeef6", "stroke": "#5a5a5a", "strokeWidth": 1}, "encoding": {"x": {"field": "m", "type": "nominal", "sort": null, "scale": {"type": "band", "paddingInner": 0, "paddingOuter": 0}, "axis": null}}},
           {"mark": {"type": "text", "fontSize": 10, "color": "#333333"}, "encoding": {"x": {"field": "m", "type": "nominal", "sort": null, "scale": {"type": "band", "paddingInner": 0, "paddingOuter": 0}, "axis": null}, "text": {"field": "m"}}}
          ]
         }
        ]
       }
      ]
     }
    ]
   }
  ]
 }
]
}
